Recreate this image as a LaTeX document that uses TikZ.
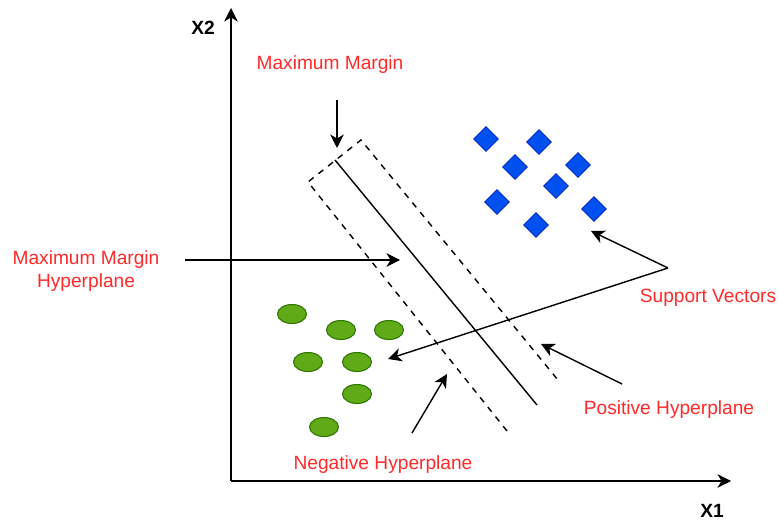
\documentclass[tikz,border=0pt]{standalone}
\usepackage{fontspec}
\setmainfont{Liberation Sans}
\usetikzlibrary{arrows.meta, shapes.geometric, positioning}
\definecolor{svmred}{HTML}{FF2A2A}
\definecolor{svmblue}{HTML}{0050EF}
\definecolor{svmblueline}{HTML}{001DBC}
\definecolor{svmgreen}{HTML}{60A917}
\definecolor{svmgreenline}{HTML}{2D7600}

\begin{document}
\begin{tikzpicture}[
    x=0.02cm, y=-0.02cm,
    every node/.style={font=\fontsize{10.9}{13.6}\selectfont},
    lbl/.style={text=svmred, align=center, inner sep=0pt},
    axlbl/.style={font=\fontsize{10.9}{13.6}\selectfont\bfseries, inner sep=0pt},
    posdot/.style={diamond, draw=svmblueline, fill=svmblue, line width=0.4pt, minimum width=0.5cm, minimum height=0.5cm, inner sep=0pt},
    negdot/.style={ellipse, draw=svmgreenline, fill=svmgreen, line width=0.6pt, minimum width=0.58cm, minimum height=0.38cm, inner sep=0pt},
    ar/.style={-{Stealth[length=2.7mm, width=2.7mm, inset=0.8mm]}, line width=0.8pt},
    margin/.style={dash pattern=on 3.5pt off 3.5pt, line width=0.8pt}
]
\useasboundingbox (0,0) rectangle (778,520);
% ----- axes -----
\coordinate (origin) at (231,481);
\coordinate (ytip) at (231,8);
\coordinate (xtip) at (731,481);
\draw[ar] (origin) -- (ytip);
\draw[ar] (origin) -- (xtip);
\node[axlbl] (x2) at (203,28) {X2};
\node[axlbl] (x1) at (712,511) {X1};
% ----- hyperplanes -----
\coordinate (nTop) at (308,182);
\coordinate (pTop) at (361,140);
\coordinate (nEnd) at (507,431);
\coordinate (pEnd) at (558,380);
\coordinate (hTop) at (335,160);
\coordinate (hEnd) at (537,405);
\draw[margin] (nEnd) -- (nTop) -- (pTop) -- (pEnd);
\draw[line width=0.8pt] (hTop) -- (hEnd);
% ----- class points -----
\foreach \i/\px/\py in {1/486/139, 2/539/142, 3/515/167, 4/578/165, 5/556/186, 6/497/202, 7/594/209, 8/536/225}
    \node[posdot] (d\i) at (\px,\py) {};
\foreach \i/\px/\py in {1/292/314, 2/341/330, 3/389/330, 4/308/362, 5/357/362, 6/357/394, 7/324/427}
    \node[negdot] (c\i) at (\px,\py) {};
% ----- labels -----
\node[lbl] (mm) at (330,65) {Maximum Margin};
\node[lbl] (mmh) at (86,271) {Maximum Margin\\Hyperplane};
\node[lbl] (sv) at (708,298) {Support Vectors};
\node[lbl] (posh) at (669,410) {Positive Hyperplane};
\node[lbl] (negh) at (383,465) {Negative Hyperplane};
% label arrows
\coordinate (mmTail) at (337,100);
\coordinate (mmTip) at (337,148);
\draw[ar] (mmTail) -- (mmTip);
\coordinate (mmhTail) at (185,260);
\coordinate (mmhTip) at (400,260);
\draw[ar] (mmhTail) -- (mmhTip);
\coordinate (svTail) at (668,268);
\coordinate (svTipA) at (591,231);
\coordinate (svTipB) at (388,359);
\draw[ar] (svTail) -- (svTipA);
\draw[ar] (svTail) -- (svTipB);
\coordinate (posTail) at (622,384);
\coordinate (posTip) at (541,344);
\draw[ar] (posTail) -- (posTip);
\coordinate (negTail) at (412,433);
\coordinate (negTip) at (447,374);
\draw[ar] (negTail) -- (negTip);
\end{tikzpicture}
\end{document}
